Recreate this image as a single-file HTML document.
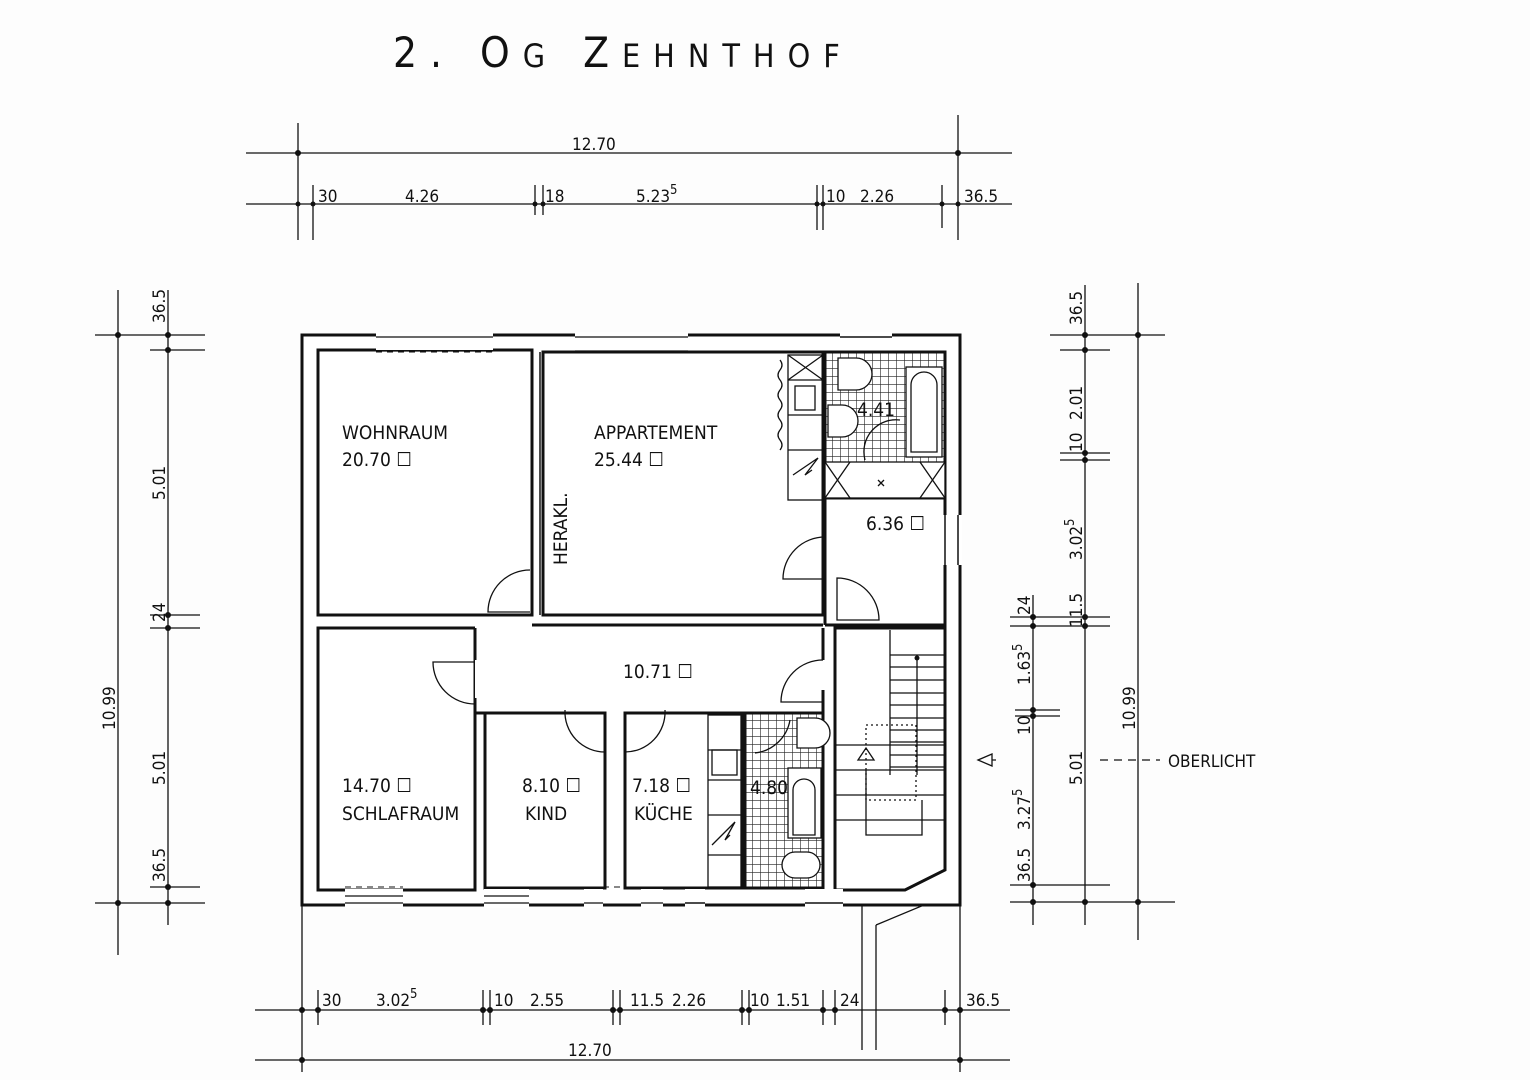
<!DOCTYPE html>
<html><head><meta charset="utf-8"><style>
html,body{margin:0;padding:0;background:#fff;}
svg{display:block;}
text{font-family:"DejaVu Sans Condensed","Liberation Sans",sans-serif;fill:#111;}
</style></head><body>
<svg width="1530" height="1080" viewBox="0 0 1530 1080" xmlns="http://www.w3.org/2000/svg">
<rect width="1530" height="1080" fill="#fdfdfd"/>
<defs>
<pattern id="tile" width="8" height="8" patternUnits="userSpaceOnUse">
<rect width="8" height="8" fill="#fff"/><path d="M0 0H8M0 0V8" stroke="#222" stroke-width="1.2"/></pattern>
</defs>
<text x="393" y="67" font-size="42" letter-spacing="13" font-family="DejaVu Sans Condensed, Liberation Sans, sans-serif" font-weight="300">2. O<tspan font-size="32">G</tspan> Z<tspan font-size="32">EHNTHOF</tspan></text>

<g stroke="#111" stroke-width="1.3" fill="none">
<line x1="246" y1="153" x2="1012" y2="153"/>
<line x1="246" y1="204" x2="1012" y2="204"/>
<line x1="298" y1="123" x2="298" y2="240"/>
<line x1="958" y1="115" x2="958" y2="240"/>
<line x1="313" y1="185" x2="313" y2="240"/>
<line x1="535" y1="185" x2="535" y2="215"/><line x1="543" y1="185" x2="543" y2="215"/>
<line x1="817" y1="185" x2="817" y2="230"/><line x1="823" y1="185" x2="823" y2="230"/>
<line x1="942" y1="185" x2="942" y2="228"/>
<line x1="118" y1="290" x2="118" y2="955"/>
<line x1="168" y1="290" x2="168" y2="925"/>
<line x1="95" y1="335" x2="205" y2="335"/>
<line x1="150" y1="350" x2="205" y2="350"/>
<line x1="150" y1="615" x2="200" y2="615"/><line x1="150" y1="628" x2="200" y2="628"/>
<line x1="150" y1="887" x2="200" y2="887"/>
<line x1="95" y1="903" x2="205" y2="903"/>
<line x1="1085" y1="285" x2="1085" y2="925"/>
<line x1="1138" y1="283" x2="1138" y2="940"/>
<line x1="1033" y1="595" x2="1033" y2="925"/>
<line x1="1050" y1="335" x2="1165" y2="335"/>
<line x1="1060" y1="350" x2="1110" y2="350"/>
<line x1="1060" y1="453" x2="1110" y2="453"/><line x1="1060" y1="460" x2="1110" y2="460"/>
<line x1="1010" y1="617" x2="1110" y2="617"/><line x1="1010" y1="626" x2="1110" y2="626"/>
<line x1="1015" y1="710" x2="1060" y2="710"/><line x1="1015" y1="716" x2="1060" y2="716"/>
<line x1="1010" y1="885" x2="1110" y2="885"/>
<line x1="1010" y1="902" x2="1175" y2="902"/>
<line x1="1100" y1="760" x2="1160" y2="760" stroke-dasharray="8 6"/>
<line x1="255" y1="1010" x2="1010" y2="1010"/>
<line x1="255" y1="1060" x2="1010" y2="1060"/>
<line x1="302" y1="905" x2="302" y2="1072"/><line x1="318" y1="990" x2="318" y2="1025"/>
<line x1="483" y1="990" x2="483" y2="1025"/><line x1="490" y1="990" x2="490" y2="1025"/>
<line x1="613" y1="990" x2="613" y2="1025"/><line x1="620" y1="990" x2="620" y2="1025"/>
<line x1="742" y1="990" x2="742" y2="1025"/><line x1="749" y1="990" x2="749" y2="1025"/>
<line x1="823" y1="990" x2="823" y2="1025"/><line x1="835" y1="990" x2="835" y2="1025"/>
<line x1="945" y1="990" x2="945" y2="1025"/>
<line x1="960" y1="905" x2="960" y2="1072"/>
<line x1="862" y1="905" x2="862" y2="1050"/><line x1="876" y1="925" x2="876" y2="1050"/>
<line x1="876" y1="925" x2="960" y2="890"/>
</g>
<g fill="#111">
<circle cx="298" cy="153" r="3"/><circle cx="958" cy="153" r="3"/>
<circle cx="298" cy="204" r="2.5"/><circle cx="313" cy="204" r="2.5"/><circle cx="535" cy="204" r="2.5"/><circle cx="543" cy="204" r="2.5"/><circle cx="817" cy="204" r="2.5"/><circle cx="823" cy="204" r="2.5"/><circle cx="942" cy="204" r="2.5"/><circle cx="958" cy="204" r="2.5"/>
<circle cx="118" cy="335" r="3"/><circle cx="168" cy="335" r="3"/><circle cx="168" cy="350" r="3"/><circle cx="168" cy="615" r="3"/><circle cx="168" cy="628" r="3"/><circle cx="168" cy="887" r="3"/><circle cx="118" cy="903" r="3"/><circle cx="168" cy="903" r="3"/>
<circle cx="1085" cy="335" r="3"/><circle cx="1138" cy="335" r="3"/><circle cx="1085" cy="350" r="3"/><circle cx="1085" cy="453" r="3"/><circle cx="1085" cy="460" r="3"/><circle cx="1085" cy="617" r="3"/><circle cx="1085" cy="626" r="3"/><circle cx="1033" cy="617" r="3"/><circle cx="1033" cy="626" r="3"/><circle cx="1033" cy="710" r="3"/><circle cx="1033" cy="716" r="3"/><circle cx="1033" cy="885" r="3"/><circle cx="1033" cy="902" r="3"/><circle cx="1085" cy="902" r="3"/><circle cx="1138" cy="902" r="3"/>
<circle cx="302" cy="1010" r="3"/><circle cx="318" cy="1010" r="3"/><circle cx="483" cy="1010" r="3"/><circle cx="490" cy="1010" r="3"/><circle cx="613" cy="1010" r="3"/><circle cx="620" cy="1010" r="3"/><circle cx="742" cy="1010" r="3"/><circle cx="749" cy="1010" r="3"/><circle cx="823" cy="1010" r="3"/><circle cx="835" cy="1010" r="3"/><circle cx="945" cy="1010" r="3"/><circle cx="960" cy="1010" r="3"/><circle cx="302" cy="1060" r="3"/><circle cx="960" cy="1060" r="3"/>
</g>
<g font-size="17">
<text x="572" y="150">12.70</text>
<text x="318" y="202">30</text><text x="405" y="202">4.26</text><text x="545" y="202">18</text><text x="636" y="202">5.23<tspan dy="-8" font-size="13">5</tspan></text>
<text x="826" y="202">10</text><text x="860" y="202">2.26</text><text x="964" y="202">36.5</text>
<text x="322" y="1006">30</text><text x="376" y="1006">3.02<tspan dy="-8" font-size="13">5</tspan></text><text x="494" y="1006">10</text><text x="530" y="1006">2.55</text>
<text x="630" y="1006">11.5</text><text x="672" y="1006">2.26</text><text x="750" y="1006">10</text><text x="776" y="1006">1.51</text><text x="840" y="1006">24</text><text x="966" y="1006">36.5</text>
<text x="568" y="1056">12.70</text>
<text x="1168" y="767">OBERLICHT</text>
</g>
<g font-size="17">
<text transform="translate(165,323) rotate(-90)">36.5</text>
<text transform="translate(165,500) rotate(-90)">5.01</text>
<text transform="translate(165,622) rotate(-90)">24</text>
<text transform="translate(115,730) rotate(-90)">10.99</text>
<text transform="translate(165,785) rotate(-90)">5.01</text>
<text transform="translate(165,882) rotate(-90)">36.5</text>
<text transform="translate(1082,325) rotate(-90)">36.5</text>
<text transform="translate(1082,420) rotate(-90)">2.01</text>
<text transform="translate(1082,452) rotate(-90)">10</text>
<text transform="translate(1082,560) rotate(-90)">3.02<tspan dy="-8" font-size="13">5</tspan></text>
<text transform="translate(1082,627) rotate(-90)">11.5</text>
<text transform="translate(1030,615) rotate(-90)">24</text>
<text transform="translate(1030,685) rotate(-90)">1.63<tspan dy="-8" font-size="13">5</tspan></text>
<text transform="translate(1030,735) rotate(-90)">10</text>
<text transform="translate(1082,785) rotate(-90)">5.01</text>
<text transform="translate(1030,830) rotate(-90)">3.27<tspan dy="-8" font-size="13">5</tspan></text>
<text transform="translate(1030,882) rotate(-90)">36.5</text>
<text transform="translate(1135,730) rotate(-90)">10.99</text>
</g>
<path d="M978 760 L992 754 L992 766 Z M992 760 H996" fill="none" stroke="#111" stroke-width="1.3"/>

<g stroke="#111" stroke-width="3">
<rect x="302" y="335" width="658" height="570" fill="#fff"/>
<rect x="318" y="350" width="214" height="265" fill="#fff"/>
<rect x="543" y="352" width="280" height="263" fill="#fff"/>
<rect x="825" y="352" width="120" height="146" fill="url(#tile)"/>
<rect x="825" y="498" width="120" height="127" fill="#fff"/>
<rect x="318" y="628" width="157" height="262" fill="#fff"/>
<rect x="485" y="713" width="120" height="175" fill="#fff"/>
<rect x="625" y="713" width="118" height="175" fill="#fff"/>
<rect x="745" y="713" width="78" height="175" fill="url(#tile)"/>
<path d="M835 628 H945 V870 L905 890 H835 Z" fill="#fff"/>
<rect x="475" y="625" width="350" height="85" fill="#fff" stroke="none"/>
<path d="M475 628 V660 M475 698 V713 H605 M625 713 H823 V690 M823 660 V628 M532 625 H823" fill="none"/>
</g>
<g stroke="#111" stroke-width="1.5" fill="#fff">
<line x1="540" y1="352" x2="540" y2="615"/>
<rect x="376" y="332" width="117" height="18" stroke="none"/>
<path d="M376 337H493M376 351H493" fill="none" stroke-width="1.2"/>
<rect x="575" y="332" width="113" height="18" stroke="none"/>
<path d="M575 337H688M575 351H688" fill="none" stroke-width="1.2"/>
<rect x="840" y="332" width="52" height="18" stroke="none"/>
<path d="M840 337H892" fill="none"/>
<rect x="345" y="889" width="58" height="19" stroke="none"/>
<path d="M345 903H403M345 896H403" fill="none" stroke-width="1.2"/>
<rect x="484" y="889" width="45" height="19" stroke="none"/>
<path d="M484 903H529M484 896H529" fill="none" stroke-width="1.2"/>
<rect x="584" y="889" width="19" height="19" stroke="none"/>
<rect x="641" y="889" width="22" height="19" stroke="none"/>
<path d="M584 903H603M641 903H663" fill="none" stroke-width="1.2"/>
<rect x="685" y="889" width="20" height="19" stroke="none"/>
<path d="M685 903H705" fill="none"/>
<rect x="805" y="889" width="38" height="19" stroke="none"/>
<path d="M805 903H843" fill="none"/>
<rect x="943" y="515" width="19" height="50" stroke="none"/>
<path d="M945 515V565M958 515V565" fill="none"/>
</g>
<g stroke="#111" stroke-width="1" fill="none" stroke-dasharray="6 5">
<line x1="376" y1="352" x2="493" y2="352"/><line x1="575" y1="352" x2="688" y2="352"/>
<line x1="345" y1="887" x2="403" y2="887"/><line x1="484" y1="887" x2="529" y2="887"/>
<line x1="603" y1="887" x2="641" y2="887"/>
</g>
<g stroke="#111" stroke-width="1.3" fill="none">
<path d="M530 570 A42 42 0 0 0 488 612 H530"/>
<path d="M475 662 H433 A42 42 0 0 0 475 704"/>
<path d="M565 710 A40 40 0 0 0 605 752 V713"/>
<path d="M665 710 A40 40 0 0 1 625 752 V713"/>
<path d="M823 660 A42 42 0 0 0 781 702 H823"/>
<path d="M825 537 A42 42 0 0 0 783 579 H825"/>
<path d="M837 578 A42 42 0 0 1 879 620 H837 Z"/>
<rect x="788" y="355" width="35" height="145"/>
<path d="M788 355 L823 380 M823 355 L788 380 M788 380H823M788 415H823M788 450H823"/>
<rect x="795" y="386" width="20" height="24"/>
<path d="M793 475 L818 458 L805 475 L812 470"/>
<path d="M780 360 q4 5 0 10 q-4 5 0 10 q4 5 0 10 q-4 5 0 10 q4 5 0 10 q-4 5 0 10 q4 5 0 10 q-4 5 0 10 q4 5 0 10"/>
<rect x="708" y="715" width="33" height="172"/>
<path d="M708 750H741M708 780H741M708 815H741M708 855H741"/>
<rect x="712" y="750" width="25" height="25"/>
<path d="M712 845 L735 822 L725 840 L730 835"/>
<rect x="906" y="367" width="36" height="90" fill="#fff"/>
<path d="M911 452 V385 A13 13 0 0 1 937 385 V452 Z"/>
<path d="M838 358 h18 a12 12 0 0 1 0 32 h-18 Z" fill="#fff"/>
<path d="M828 405 h14 a12 12 0 0 1 0 32 h-14 Z" fill="#fff"/>
<rect x="825" y="462" width="120" height="36" fill="#fff"/>
<path d="M825 462 L850 498 M850 462 L825 498 M920 462 L945 498 M945 462 L920 498 M878 480 l6 6 M884 480 l-6 6"/>
<path d="M900 420 A32 32 0 0 0 865 460"/>
<path d="M797 718 h18 a10 10 0 0 1 0 30 h-18 Z" fill="#fff"/>
<rect x="788" y="768" width="33" height="70" fill="#fff"/>
<path d="M793 835 V790 A11 11 0 0 1 815 790 V835 Z"/>
<path d="M795 852 h12 a12 12 0 0 1 0 26 h-12 a12 12 0 0 1 0 -26 Z" fill="#fff"/>
<path d="M790 720 A40 40 0 0 1 755 753"/>
<path d="M890 630 V775 M890 655H945 M890 667H945 M890 680H945 M890 693H945 M890 705H945 M890 718H945 M890 730H945 M890 742H945 M890 755H945 M890 767H945 M835 745H945 M835 770H945 M835 795H945 M835 820H945"/>
<path d="M917 658 V775 M866 770 V835 H922 V800"/>
<path d="M858 760 L866 748 L874 760 Z"/>
<rect x="866" y="725" width="50" height="75" stroke-dasharray="2 3"/>
</g>
<circle cx="917" cy="658" r="2.5" fill="#111"/>
<g font-size="19">
<text x="342" y="439">WOHNRAUM</text><text x="342" y="466">20.70 ☐</text>
<text x="594" y="439">APPARTEMENT</text><text x="594" y="466">25.44 ☐</text>
<text transform="translate(567,565) rotate(-90)">HERAKL.</text>
<text x="857" y="416">4.41</text>
<text x="866" y="530">6.36 ☐</text>
<text x="623" y="678">10.71 ☐</text>
<text x="342" y="792">14.70 ☐</text><text x="342" y="820">SCHLAFRAUM</text>
<text x="522" y="792">8.10 ☐</text><text x="525" y="820">KIND</text>
<text x="632" y="792">7.18 ☐</text><text x="634" y="820">KÜCHE</text>
<text x="750" y="794">4.80</text>
</g>
</svg>
</body></html>
